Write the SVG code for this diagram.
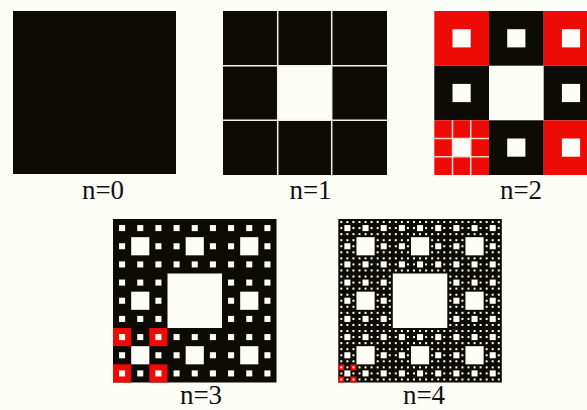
<svg xmlns="http://www.w3.org/2000/svg" xmlns:xlink="http://www.w3.org/1999/xlink" width="587" height="410" viewBox="0 0 587 410">
<style>
.blk{fill:#0c0b06}
.red{fill:#ee0b05}
.hole{fill:#fdfdf8}
.grid{stroke:#f4f0ea;stroke-width:1.5;fill:none}
.rgrid{stroke:#fbd6cf;stroke-width:1.5;fill:none}
text{font-family:'Liberation Serif','Times New Roman',serif;font-size:27px;fill:#111;text-anchor:middle}
</style>
<defs>
<g id="h1"><rect x="1" y="1" width="1" height="1"/></g>
<g id="h2"><rect x="3" y="3" width="3" height="3"/>
<use xlink:href="#h1"/><use xlink:href="#h1" x="3"/><use xlink:href="#h1" x="6"/>
<use xlink:href="#h1" y="3"/><use xlink:href="#h1" x="6" y="3"/>
<use xlink:href="#h1" y="6"/><use xlink:href="#h1" x="3" y="6"/><use xlink:href="#h1" x="6" y="6"/></g>
<g id="h3"><rect x="9" y="9" width="9" height="9"/>
<use xlink:href="#h2"/><use xlink:href="#h2" x="9"/><use xlink:href="#h2" x="18"/>
<use xlink:href="#h2" y="9"/><use xlink:href="#h2" x="18" y="9"/>
<use xlink:href="#h2" y="18"/><use xlink:href="#h2" x="9" y="18"/><use xlink:href="#h2" x="18" y="18"/></g>
<g id="h4"><rect x="27" y="27" width="27" height="27"/>
<use xlink:href="#h3"/><use xlink:href="#h3" x="27"/><use xlink:href="#h3" x="54"/>
<use xlink:href="#h3" y="27"/><use xlink:href="#h3" x="54" y="27"/>
<use xlink:href="#h3" y="54"/><use xlink:href="#h3" x="27" y="54"/><use xlink:href="#h3" x="54" y="54"/></g>
</defs>
<rect width="587" height="410" fill="#fdfdf8"/>

<g id="n0">
<rect class="blk" x="13" y="11" width="163" height="163"/>
<text x="103" y="199">n=0</text>
</g>

<g id="n1">
<rect class="blk" x="223" y="11" width="164" height="164"/>
<rect class="hole" x="277.7" y="65.7" width="54" height="54.6"/>
<path class="grid" d="M277.7 11V175M331.7 11V175M223 65.7H387M223 120.3H387"/>
<text x="310.5" y="199">n=1</text>
</g>

<g id="n2">
<rect class="red" x="434.3" y="11" width="54.7" height="54.7"/>
<rect class="blk" x="489" y="11" width="54.7" height="54.7"/>
<rect class="red" x="543.7" y="11" width="54.7" height="54.7"/>
<rect class="blk" x="434.3" y="65.7" width="54.7" height="54.6"/>
<rect class="blk" x="543.7" y="65.7" width="54.7" height="54.6"/>
<rect class="red" x="434.3" y="120.3" width="54.7" height="54.7"/>
<rect class="blk" x="489" y="120.3" width="54.7" height="54.7"/>
<rect class="red" x="543.7" y="120.3" width="54.7" height="54.7"/>
<g class="hole">
<rect x="452.5" y="29.2" width="18.2" height="18.2"/>
<rect x="507.2" y="29.2" width="18.2" height="18.2"/>
<rect x="561.9" y="29.2" width="18.2" height="18.2"/>
<rect x="452.5" y="83.9" width="18.2" height="18.2"/>
<rect x="561.9" y="83.9" width="18.2" height="18.2"/>
<rect x="507.2" y="138.5" width="18.2" height="18.2"/>
<rect x="561.9" y="138.5" width="18.2" height="18.2"/>
<rect x="452.5" y="138.5" width="18.2" height="18.2"/>
</g>
<path class="rgrid" d="M452.5 120.3V175M470.7 120.3V175M434.3 138.5H489M434.3 156.8H489"/>
<text x="521" y="199">n=2</text>
</g>

<g id="n3">
<rect class="blk" x="113" y="219" width="163.5" height="163.5"/>
<g transform="translate(113 219) scale(6.0556)">
<g class="red"><rect x="0" y="18" width="3" height="3"/><rect x="6" y="18" width="3" height="3"/><rect x="0" y="24" width="3" height="3"/><rect x="6" y="24" width="3" height="3"/></g>
<use class="hole" xlink:href="#h3"/>
</g>
<text x="201" y="404">n=3</text>
</g>

<g id="n4">
<rect class="blk" x="338.3" y="219" width="163.5" height="163.5"/>
<g transform="translate(338.3 219) scale(2.0185)">
<g class="red"><rect x="0" y="72" width="3" height="3"/><rect x="6" y="72" width="3" height="3"/><rect x="0" y="78" width="3" height="3"/><rect x="6" y="78" width="3" height="3"/></g>
<use class="hole" xlink:href="#h4"/>
</g>
<text x="424" y="404">n=4</text>
</g>
</svg>
